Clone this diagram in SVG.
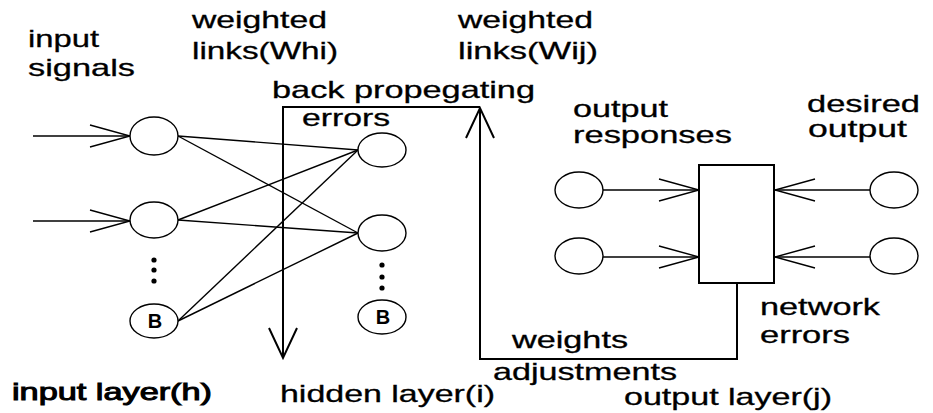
<svg xmlns="http://www.w3.org/2000/svg" width="933" height="413" viewBox="0 0 933 413">
<defs>
<style>
.n{fill:#fff;stroke:#000;stroke-width:1.4}
.c{fill:none;stroke:#000;stroke-width:1.4}
.bp{fill:none;stroke:#000;stroke-width:2}
.t{font-family:"Liberation Sans",Arial,sans-serif;font-size:24px;fill:#000;stroke:#000;stroke-width:0.3}
.b{font-family:"Liberation Sans",Arial,sans-serif;font-size:20px;font-weight:bold;fill:#000;text-anchor:middle}
.d{fill:#000}
</style>
<marker id="ah" markerUnits="userSpaceOnUse" markerWidth="42" markerHeight="24" refX="40" refY="11" orient="auto" overflow="visible">
<path d="M0,0 L40,11 L0,22" fill="none" stroke="#000" stroke-width="1.4"/>
</marker>
<marker id="bh" markerUnits="userSpaceOnUse" markerWidth="32" markerHeight="30" refX="30" refY="14" orient="auto" overflow="visible">
<path d="M0,0 L30,14 L0,28" fill="none" stroke="#000" stroke-width="2"/>
</marker>
</defs>
<rect width="933" height="413" fill="#fff"/>

<g id="connectors">
<line class="c" x1="33" y1="136" x2="130" y2="136" marker-end="url(#ah)"/>
<line class="c" x1="33" y1="221" x2="130" y2="221" marker-end="url(#ah)"/>
<line class="c" x1="178" y1="136" x2="358" y2="150"/>
<line class="c" x1="178" y1="136" x2="358" y2="233"/>
<line class="c" x1="178" y1="220" x2="358" y2="150"/>
<line class="c" x1="178" y1="220" x2="358" y2="233"/>
<line class="c" x1="178" y1="321" x2="358" y2="150"/>
<line class="c" x1="178" y1="321" x2="358" y2="233"/>
<line class="c" x1="603" y1="190" x2="699" y2="190" marker-end="url(#ah)"/>
<line class="c" x1="603" y1="257" x2="699" y2="257" marker-end="url(#ah)"/>
<line class="c" x1="870" y1="190" x2="775" y2="190" marker-end="url(#ah)"/>
<line class="c" x1="870" y1="257" x2="775" y2="257" marker-end="url(#ah)"/>
<polyline class="bp" points="737,283 737,359 480,359 480,108" marker-end="url(#bh)"/>
<polyline class="bp" points="480,107 283,107 283,358" marker-end="url(#bh)"/>
</g>

<g id="input1"><ellipse class="n" cx="154" cy="136" rx="24" ry="19"/></g>
<g id="input2"><ellipse class="n" cx="154" cy="220" rx="24" ry="18"/></g>
<g id="input-dots"><circle class="d" cx="154" cy="260" r="2.6"/><circle class="d" cx="154" cy="270" r="2.6"/><circle class="d" cx="154" cy="281" r="2.6"/></g>
<g id="inputB"><ellipse class="n" cx="154" cy="321" rx="24" ry="17"/><text class="b" x="155" y="328">B</text></g>

<g id="hidden1"><ellipse class="n" cx="382" cy="150" rx="24" ry="17"/></g>
<g id="hidden2"><ellipse class="n" cx="382" cy="233" rx="24" ry="18"/></g>
<g id="hidden-dots"><circle class="d" cx="382" cy="265" r="2.6"/><circle class="d" cx="382" cy="277" r="2.6"/><circle class="d" cx="382" cy="288" r="2.6"/></g>
<g id="hiddenB"><ellipse class="n" cx="382" cy="317" rx="24" ry="17"/><text class="b" x="383" y="324">B</text></g>

<g id="out1"><ellipse class="n" cx="579" cy="190" rx="24" ry="18"/></g>
<g id="out2"><ellipse class="n" cx="579" cy="256" rx="24" ry="18"/></g>
<g id="desired1"><ellipse class="n" cx="894" cy="190" rx="24" ry="18"/></g>
<g id="desired2"><ellipse class="n" cx="894" cy="256" rx="24" ry="18"/></g>
<g id="comparator"><rect x="699" y="165" width="75" height="118" fill="#fff" stroke="#000" stroke-width="2"/></g>

<g id="labels">
<text class="t" x="28" y="47" textLength="71" lengthAdjust="spacingAndGlyphs">input</text>
<text class="t" x="28" y="76" textLength="107" lengthAdjust="spacingAndGlyphs">signals</text>
<text class="t" x="192" y="28" textLength="135" lengthAdjust="spacingAndGlyphs">weighted</text>
<text class="t" x="192" y="59" textLength="146" lengthAdjust="spacingAndGlyphs">links(Whi)</text>
<text class="t" x="458" y="28" textLength="135" lengthAdjust="spacingAndGlyphs">weighted</text>
<text class="t" x="458" y="59" textLength="140" lengthAdjust="spacingAndGlyphs">links(Wij)</text>
<text class="t" x="272" y="98" textLength="263" lengthAdjust="spacingAndGlyphs">back propegating</text>
<text class="t" x="302" y="126" textLength="88" lengthAdjust="spacingAndGlyphs">errors</text>
<text class="t" x="573" y="117" textLength="95" lengthAdjust="spacingAndGlyphs">output</text>
<text class="t" x="573" y="143" textLength="159" lengthAdjust="spacingAndGlyphs">responses</text>
<text class="t" x="807" y="112" textLength="113" lengthAdjust="spacingAndGlyphs">desired</text>
<text class="t" x="808" y="137" textLength="99" lengthAdjust="spacingAndGlyphs">output</text>
<text class="t" x="760" y="315" textLength="120" lengthAdjust="spacingAndGlyphs">network</text>
<text class="t" x="760" y="343" textLength="90" lengthAdjust="spacingAndGlyphs">errors</text>
<text class="t" x="512" y="348" textLength="116" lengthAdjust="spacingAndGlyphs">weights</text>
<text class="t" x="493" y="380" textLength="184" lengthAdjust="spacingAndGlyphs">adjustments</text>
<text class="t" x="624" y="405" textLength="208" lengthAdjust="spacingAndGlyphs">output layer(j)</text>
<text class="t" x="280" y="402" textLength="215" lengthAdjust="spacingAndGlyphs">hidden layer(i)</text>
<text class="t" x="12" y="400" textLength="200" lengthAdjust="spacingAndGlyphs" style="stroke-width:1">input layer(h)</text>
</g>
</svg>
